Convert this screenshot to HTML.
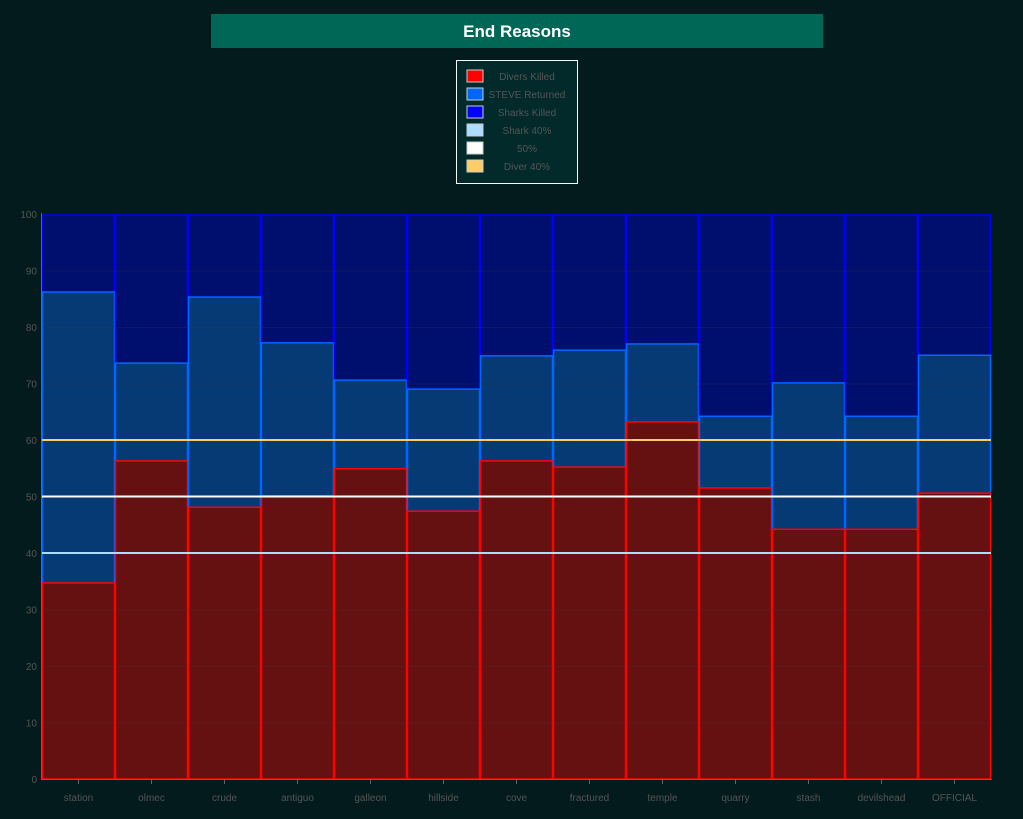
<!DOCTYPE html>
<html><head><meta charset="utf-8"><style>
body{margin:0;background:#031b1c;width:1023px;height:814px;overflow:hidden;font-family:"Liberation Sans",sans-serif}
</style></head><body>
<svg width="1023" height="814" xmlns="http://www.w3.org/2000/svg" font-family="Liberation Sans, sans-serif">
<rect width="1023" height="814" fill="#031b1c"/>
<rect x="211" y="14" width="612" height="34" fill="#006655"/>
<text x="517" y="37" fill="#fff" font-size="17" font-weight="bold" text-anchor="middle">End Reasons</text>
<rect x="456.5" y="60.5" width="121" height="123" fill="#022a2b" stroke="#fff" stroke-width="1"/>
<g font-size="10" fill="#555" text-anchor="middle">
<rect x="467" y="70" width="16" height="12" fill="#f00" stroke="#ccc"/><text x="527" y="80">Divers Killed</text>
<rect x="467" y="88" width="16" height="12" fill="#0066ff" stroke="#ccc"/><text x="527" y="98">STEVE Returned</text>
<rect x="467" y="106" width="16" height="12" fill="#0000ff" stroke="#ccc"/><text x="527" y="116">Sharks Killed</text>
<rect x="467" y="124" width="16" height="12" fill="#aaddff" stroke="#ccc"/><text x="527" y="134">Shark 40%</text>
<rect x="467" y="142" width="16" height="12" fill="#fff" stroke="#ccc"/><text x="527" y="152">50%</text>
<rect x="467" y="160" width="16" height="12" fill="#ffcc66" stroke="#ccc"/><text x="527" y="170">Diver 40%</text>
</g>
<g id="bars"></g>
<g id="grid" stroke="#553333" stroke-width="1" opacity="0.25"></g>
<g id="ax" font-size="10" fill="#555"></g>
<line x1="42" y1="440" x2="991" y2="440" stroke="#ffcc66" stroke-width="2"/>
<line x1="42" y1="496.5" x2="991" y2="496.5" stroke="#fff" stroke-width="2"/>
<line x1="42" y1="553" x2="991" y2="553" stroke="#aaddff" stroke-width="2"/>
<line x1="41.5" y1="213" x2="41.5" y2="780" stroke="#666" stroke-width="1"/>
<line x1="41" y1="779.5" x2="992" y2="779.5" stroke="#666" stroke-width="1"/>
</svg>
<script>
var ns="http://www.w3.org/2000/svg";
function el(p,t,a,txt){var e=document.createElementNS(ns,t);for(var k in a)e.setAttribute(k,a[k]);if(txt!=null)e.textContent=txt;p.appendChild(e);return e;}
var names=["station","olmec","crude","antiguo","galleon","hillside","cove","fractured","temple","quarry","stash","devilshead","OFFICIAL"];
var red=[34.7,56.3,48.1,50.1,54.9,47.4,56.3,55.2,63.2,51.5,44.2,44.2,50.6];
var blu=[86.2,73.6,85.3,77.2,70.6,69.0,74.9,75.9,77.0,64.2,70.1,64.2,75.0];
var b=document.getElementById("bars"),ax=document.getElementById("ax"),g=document.getElementById("grid");
function Y(v){return 779-v*5.65;}
var w=949/13;
for(var i=0;i<13;i++){
 var x=42+i*w;
 el(b,"rect",{x:x+0.5,y:Y(100)+1,width:w-1,height:Y(blu[i])-Y(100)-1,fill:"#000e6e",stroke:"#0000ff","stroke-width":1.5});
 el(b,"rect",{x:x+0.5,y:Y(blu[i]),width:w-1,height:Y(red[i])-Y(blu[i]),fill:"#053a74",stroke:"#0066ff","stroke-width":1.5});
 el(b,"rect",{x:x+0.5,y:Y(red[i]),width:w-1,height:779-Y(red[i]),fill:"#661111",stroke:"#ff0000","stroke-width":1.5});
 el(ax,"line",{x1:x+w/2,y1:780,x2:x+w/2,y2:784,stroke:"#666"});
 el(ax,"text",{x:x+w/2,y:801,"text-anchor":"middle"},names[i]);
}
for(var v=0;v<=100;v+=10){
 el(ax,"text",{x:37,y:Y(v)+4,"text-anchor":"end"},v);
 if(v>0&&v<100)el(g,"line",{x1:42,x2:991,y1:Y(v)+.5,y2:Y(v)+.5});
}
</script>
</body></html>
